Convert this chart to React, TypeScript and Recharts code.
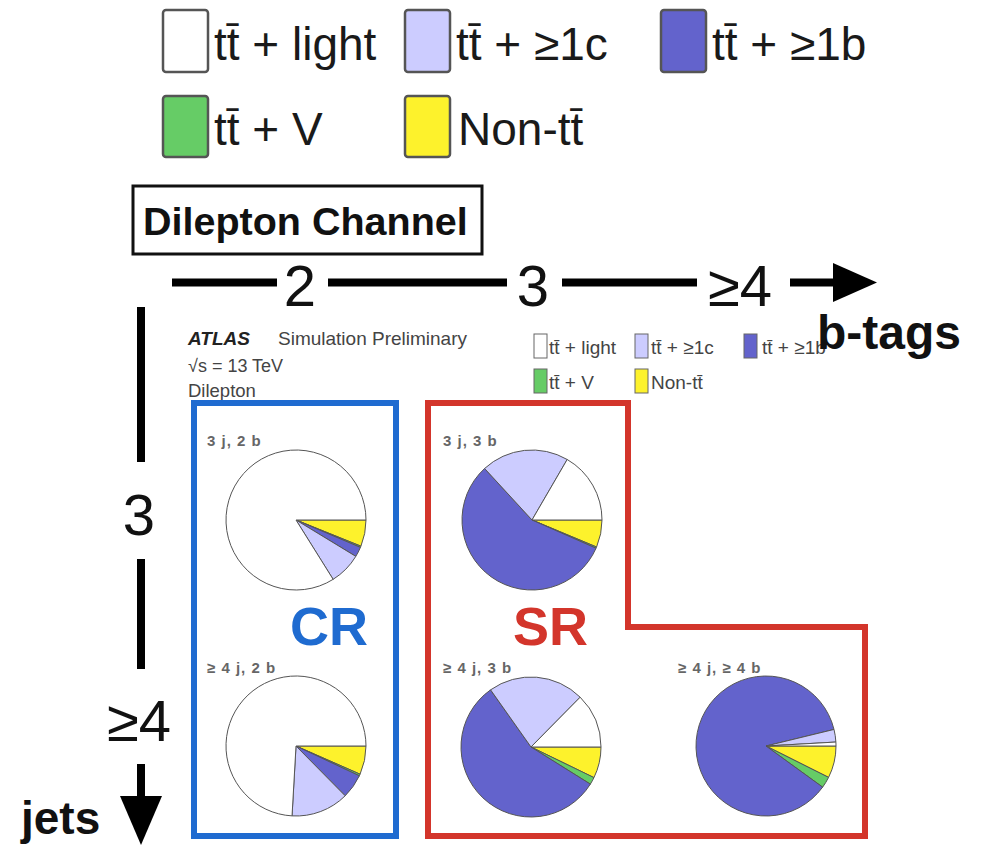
import React from "react";
import { PieChart, Pie, Cell } from "recharts";

// sample categories, in the order ROOT draws them (clockwise from 3 o'clock)
const categories = ["Non-tt\u0304", "tt\u0304 + V", "tt\u0304 + \u22651b", "tt\u0304 + \u22651c", "tt\u0304 + light"];
const colors = ["#fdf22c", "#66cc66", "#6363cc", "#ccccff", "#ffffff"];

// region labels
const regions = ["3 j, 2 b", "3 j, 3 b", "\u2265 4 j, 2 b", "\u2265 4 j, 3 b", "\u2265 4 j, \u2265 4 b"];

// fractions (%) per region, same order as categories
const frac3j2b = [6.1, 0.3, 2.3, 7.4, 83.9];
const frac3j3b = [6.3, 0.3, 56.5, 20.2, 16.6];
const frac4j2b = [6.6, 0.4, 5.6, 13.3, 74.1];
const frac4j3b = [7.2, 1.7, 56.3, 22.2, 12.6];
const frac4j4b = [7.4, 2.6, 86.2, 2.9, 0.9];

// axis labels
const bTagLabels = ["2", "3", "\u22654"];
const jetLabels = ["3", "\u22654"];

const fractions = [frac3j2b, frac3j3b, frac4j2b, frac4j3b, frac4j4b];
const pieCenters = [
  [296, 520],
  [532, 520],
  [296, 746],
  [531, 747],
  [766, 746],
];
const labelPos = [
  [207, 446],
  [443, 446],
  [207, 673],
  [443, 673],
  [678, 673],
];

const toRows = (vals: number[]) =>
  categories.map((name, i) => ({ name, value: vals[i] }));

// big legend at the top: [category index, box x, text x, row]
const bigLegend = [
  [4, 163, 214, 0],
  [3, 405, 456, 0],
  [2, 661, 712, 0],
  [1, 163, 214, 1],
  [0, 405, 458, 1],
];
// small legend inside the ATLAS plot
const smallLegend = [
  [4, 534, 549, 0],
  [3, 635, 651, 0],
  [2, 744, 762, 0],
  [1, 534, 549, 1],
  [0, 635, 651, 1],
];

const FONT = "'Liberation Sans', Arial, Helvetica, sans-serif";
const BLUE = "#1f6bd0";
const RED = "#d3352b";

const App: React.FC = () => {
  return (
    <div
      style={{
        position: "absolute",
        left: 0,
        top: 0,
        width: 982,
        height: 849,
        background: "#fff",
        fontFamily: FONT,
      }}
    >
      <svg width={982} height={849} style={{ position: "absolute", left: 0, top: 0 }}>
        {/* top legend */}
        {bigLegend.map(([c, bx, tx, row]) => (
          <g key={"bl" + c}>
            <rect
              x={bx}
              y={row === 0 ? 10 : 96}
              width={45}
              height={row === 0 ? 62 : 61}
              rx={3}
              fill={colors[c]}
              stroke="#555"
              strokeWidth={2.5}
            />
            <text x={tx} y={row === 0 ? 60 : 145} fontSize={46} fill="#1a1a1a">
              {categories[c]}
            </text>
          </g>
        ))}

        {/* channel box */}
        <rect x={133} y={186} width={349} height={68} fill="#fff" stroke="#111" strokeWidth={3} />
        <text x={143} y={235} fontSize={39.5} fontWeight="bold" fill="#111">
          Dilepton Channel
        </text>

        {/* b-tag axis */}
        {[
          [172, 277],
          [328, 507],
          [562, 697],
          [790, 835],
        ].map(([a, b], i) => (
          <line key={"h" + i} x1={a} x2={b} y1={282.5} y2={282.5} stroke="#000" strokeWidth={8} />
        ))}
        <polygon points="833,263 877,282.5 833,302" fill="#000" />
        {bTagLabels.map((t, i) => (
          <text key={t} x={[300, 533, 740][i]} y={306} fontSize={58} textAnchor="middle" fill="#111">
            {t}
          </text>
        ))}

        {/* jet axis */}
        {[
          [307, 462],
          [559, 669],
          [764, 800],
        ].map(([a, b], i) => (
          <line key={"v" + i} x1={141} x2={141} y1={a} y2={b} stroke="#000" strokeWidth={8} />
        ))}
        <polygon points="120,796 162,796 141,845" fill="#000" />
        {jetLabels.map((t, i) => (
          <text key={t} x={139} y={[535, 741][i]} fontSize={58} textAnchor="middle" fill="#111">
            {t}
          </text>
        ))}
        <text x={21} y={834} fontSize={46} fontWeight="bold" fill="#111">
          jets
        </text>

        {/* ATLAS labels */}
        <text x={188} y={345} fontSize={19} fontWeight="bold" fontStyle="italic" fill="#222">
          ATLAS
        </text>
        <text x={278} y={345} fontSize={19} fill="#444">
          Simulation Preliminary
        </text>
        <text x={188} y={372} fontSize={18} fill="#444">
          {"\u221As = 13 TeV"}
        </text>
        <text x={188} y={397} fontSize={18.5} fill="#444">
          Dilepton
        </text>

        {/* small legend */}
        {smallLegend.map(([c, bx, tx, row]) => (
          <g key={"sl" + c}>
            <rect
              x={bx}
              y={row === 0 ? 334 : 369}
              width={13}
              height={24}
              fill={colors[c]}
              stroke="#666"
              strokeWidth={1}
            />
            <text x={tx} y={row === 0 ? 354 : 389} fontSize={19} fill="#444">
              {categories[c]}
            </text>
          </g>
        ))}

        {/* drawn over the end of the small legend, as in the original */}
        <text x={817} y={349} fontSize={48} fontWeight="bold" fill="#111">
          b-tags
        </text>

        {/* CR / SR outlines */}
        <rect x={194} y={403} width={202} height={433} fill="none" stroke={BLUE} strokeWidth={6} />
        <path d="M428 403 H628 V627 H865 V836 H428 Z" fill="none" stroke={RED} strokeWidth={6} />
        <text x={290} y={645} fontSize={54} fontWeight="bold" fill={BLUE}>
          CR
        </text>
        <text x={513} y={645} fontSize={54} fontWeight="bold" fill={RED}>
          SR
        </text>

        {/* region labels */}
        {regions.map((r, i) => (
          <text
            key={r}
            x={labelPos[i][0]}
            y={labelPos[i][1]}
            fontSize={15}
            fontWeight="bold"
            letterSpacing={1}
            fill="#666"
          >
            {r}
          </text>
        ))}
      </svg>

      <div style={{ position: "absolute", left: 0, top: 0 }}>
        <PieChart width={982} height={849} margin={{ top: 0, right: 0, bottom: 0, left: 0 }}>
          {fractions.map((f, i) => (
            <Pie
              key={regions[i]}
              data={toRows(f)}
              dataKey="value"
              nameKey="name"
              cx={pieCenters[i][0]}
              cy={pieCenters[i][1]}
              outerRadius={70}
              startAngle={0}
              endAngle={-360}
              stroke="#555"
              strokeWidth={1}
              isAnimationActive={false}
            >
              {f.map((_, j) => (
                <Cell key={j} fill={colors[j]} />
              ))}
            </Pie>
          ))}
        </PieChart>
      </div>
    </div>
  );
};

export default App;
